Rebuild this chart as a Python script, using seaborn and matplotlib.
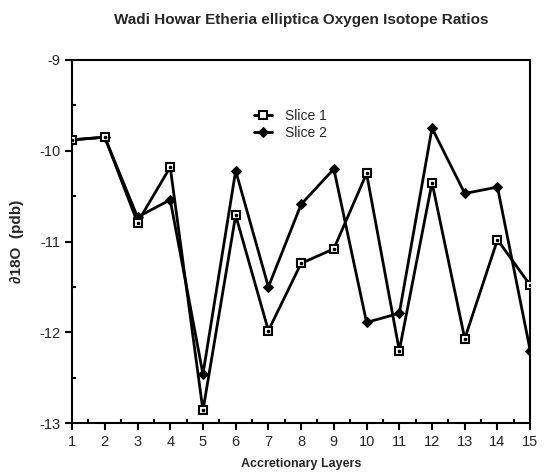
import numpy as np
import pandas as pd
import matplotlib
matplotlib.use("Agg")
import matplotlib.pyplot as plt
from matplotlib.ticker import MultipleLocator
import seaborn as sns

layers = list(range(1, 16))
slice1 = [-9.88, -9.85, -10.79, -10.18, -12.86, -10.71, -11.98, -11.24,
          -11.08, -10.25, -12.20, -10.35, -12.07, -10.98, -11.48]
slice2 = [-9.88, -9.85, -10.73, -10.54, -12.46, -10.22, -11.50, -10.59,
          -10.20, -11.89, -11.79, -9.75, -10.47, -10.40, -12.20]

sns.set_theme(style="ticks")
plt.rcParams['font.family'] = ['Liberation Sans', 'DejaVu Sans']
plt.rcParams['axes.unicode_minus'] = False

df = pd.DataFrame({"layer": layers * 2,
                   "value": slice1 + slice2,
                   "series": ["Slice 1"] * 15 + ["Slice 2"] * 15})

fig = plt.figure(figsize=(5.5, 4.76), dpi=100)
ax = fig.add_axes([0.131, 0.111, 0.833, 0.763])

# slice 1: open squares with a dot in the middle
sns.lineplot(data=df[df.series == "Slice 1"], x="layer", y="value", ax=ax,
             color="black", lw=2, marker="s", markersize=6,
             markerfacecolor="white", markeredgecolor="black",
             markeredgewidth=1.5, label="Slice 1", zorder=3)
sns.lineplot(data=df[df.series == "Slice 2"], x="layer", y="value", ax=ax,
             color="black", lw=2, marker="D", markersize=5,
             markerfacecolor="black", markeredgecolor="black",
             label="Slice 2", zorder=2)
ax.plot(layers, slice1, ls="none", marker="s", markersize=1.5,
        color="black", zorder=4)

ax.set_xlim(1, 15)
ax.set_ylim(-13, -9)
ax.xaxis.set_major_locator(MultipleLocator(1))
ax.xaxis.set_minor_locator(MultipleLocator(0.5))
ax.yaxis.set_major_locator(MultipleLocator(1))
ax.yaxis.set_minor_locator(MultipleLocator(0.5))
ax.tick_params(axis="both", which="major", direction="out", length=5,
               width=1.5, labelsize=10.5, color="black")
ax.tick_params(axis="both", which="minor", direction="in", length=3,
               width=1.5, color="black")
for s in ax.spines.values():
    s.set_visible(True)
    s.set_linewidth(1.5)
    s.set_color("black")

ax.set_xlabel("Accretionary Layers", fontsize=9, fontweight="bold")
ax.set_ylabel("\u220218O  (pdb)", fontsize=11, fontweight="bold")
ax.yaxis.set_label_coords(-0.105, 0.5)
ax.xaxis.set_label_coords(0.5, -0.095)
ax.set_title("Wadi Howar Etheria elliptica Oxygen Isotope Ratios",
             fontsize=11, fontweight="bold", pad=26)

ax.legend(loc="upper left", bbox_to_anchor=(0.37, 0.90), frameon=False,
          fontsize=10, handlelength=1.3, handletextpad=0.9, labelspacing=0.2)

fig.savefig("out.png", dpi=100)
